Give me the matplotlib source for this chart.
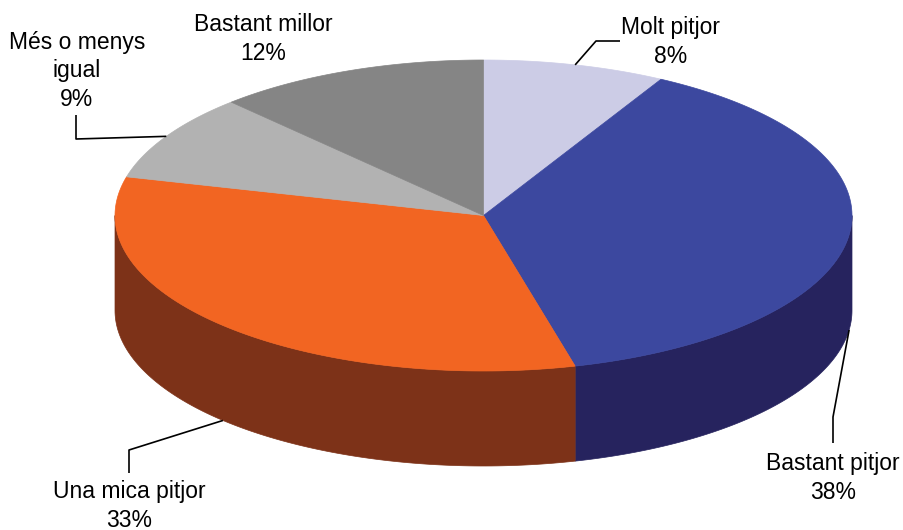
import numpy as np
import matplotlib

matplotlib.use("Agg")
import matplotlib.pyplot as plt
from matplotlib.patches import Polygon

plt.rcParams["font.family"] = ["Liberation Sans", "DejaVu Sans"]

# data, clockwise from 12 o'clock
categories = ["Molt pitjor", "Bastant pitjor", "Una mica pitjor", "Més o menys\nigual", "Bastant millor"]
values = [8, 38, 33, 9, 12]
top_colors = ["#CCCCE6", "#3C489F", "#F26522", "#B2B2B2", "#858585"]
side_colors = ["#8E8EA1", "#26235E", "#7D3218", "#7C7C7C", "#5D5D5D"]

# label layout (pixels): text centre, elbow points of the leader line
label_pos = [(671, 42), (833, 478), (129, 506), (77, 71), (263, 39)]
leader_elbows = [
    [(596, 41), (620, 41)],
    [(833, 417), (833, 443)],
    [(129, 450), (129, 473)],
    [(76, 139), (76, 115)],
    None,
]

cx, cy, rx, ry, depth = 483.5, 215.5, 368.5, 155.5, 95


def pt(theta, dz=0.0):
    th = np.radians(theta)
    return np.column_stack([cx + rx * np.cos(th), cy - ry * np.sin(th) + dz])


fig = plt.figure(figsize=(9.04, 5.30), dpi=100)
ax = fig.add_axes([0, 0, 1, 1])
ax.set_xlim(0, 904)
ax.set_ylim(530, 0)
ax.axis("off")

fracs = np.asarray(values, dtype=float) / sum(values)
ends = 90 - 360 * np.cumsum(fracs)
starts = ends + 360 * fracs

# side walls of the front half
for i in range(len(values)):
    lo, hi = max(ends[i], -180), min(starts[i], 0)
    if lo >= hi:
        continue
    arc = np.linspace(hi, lo, 120)
    poly = np.vstack([pt(arc), pt(arc[::-1], depth)])
    ax.add_patch(Polygon(poly, closed=True, facecolor=side_colors[i],
                         edgecolor=side_colors[i], linewidth=0.5))

# top faces
for i in range(len(values)):
    arc = np.linspace(starts[i], ends[i], 120)
    poly = np.vstack([[cx, cy], pt(arc)])
    ax.add_patch(Polygon(poly, closed=True, facecolor=top_colors[i],
                         edgecolor=top_colors[i], linewidth=0.5))

# labels and leader lines
for i, (cat, val) in enumerate(zip(categories, values)):
    mid = (starts[i] + ends[i]) / 2
    dz = depth if np.sin(np.radians(mid)) < 0 else 0.0
    anchor = pt(np.array([mid]), dz)[0]
    if leader_elbows[i] is not None:
        xs = [anchor[0]] + [p[0] for p in leader_elbows[i]]
        ys = [anchor[1]] + [p[1] for p in leader_elbows[i]]
        ax.plot(xs, ys, color="black", linewidth=1.2, solid_capstyle="butt")
    x, y = label_pos[i]
    ax.text(x, y, f"{cat}\n{val}%", ha="center", va="center", fontsize=16.5,
            linespacing=1.28, multialignment="center")

fig.savefig("out.png", dpi=100)
plt.close(fig)
